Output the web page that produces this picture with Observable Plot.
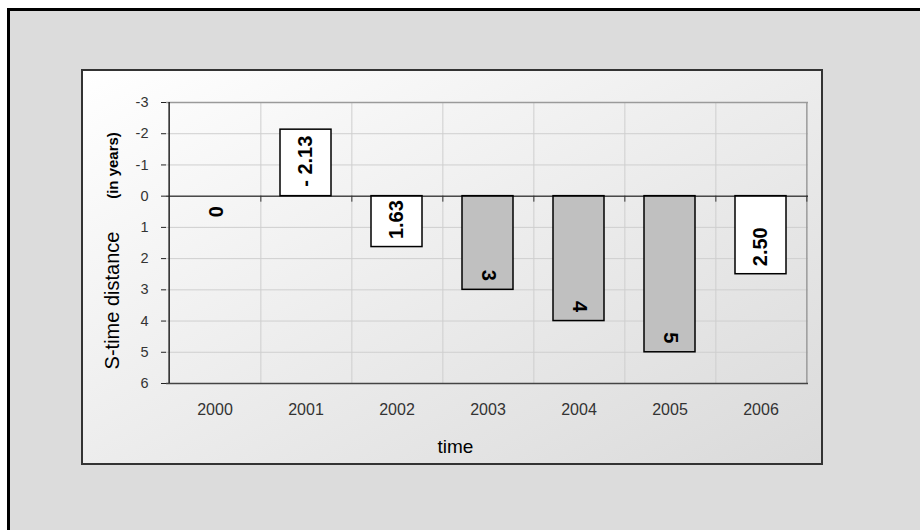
<!DOCTYPE html>
<html>
<head>
<meta charset="utf-8">
<script src="https://cdn.jsdelivr.net/npm/d3@7"></script>
<script src="https://cdn.jsdelivr.net/npm/@observablehq/plot@0.6"></script>
<style>
  html, body { margin: 0; padding: 0; background: #fff; overflow: hidden; width: 920px; height: 530px; }
  #outer { position: absolute; left: 7px; top: 8px; width: 930px; height: 540px; background: #dcdcdc;
           border-left: 3px solid #000; border-top: 3px solid #000; }
  #box { position: absolute; left: 81px; top: 69px; width: 738px; height: 392px; border: 2px solid #333;
         background: linear-gradient(to bottom right, #ffffff, #dadada); }
  #chart { position: absolute; left: 0; top: 0; }
</style>
</head>
<body>
<div id="outer"></div>
<div id="box"></div>
<div id="chart"></div>
<script>
// ---- data ----
const years = ["2000", "2001", "2002", "2003", "2004", "2005", "2006"];
const values = [0, -2.13, 1.63, 3, 4, 5, 2.5];
const valueLabels = ["0", "- 2.13", "1.63", "3", "4", "5", "2.50"];
const yTicks = [-3, -2, -1, 0, 1, 2, 3, 4, 5, 6];
const shadedYears = ["2003", "2004", "2005"];
const xTitle = "time";
const yTitle = "S-time distance";
const yUnit = "(in years)";

const data = years.map((year, i) => ({ year, value: values[i], label: valueLabels[i] }));

// ---- layout ----
const W = 920, H = 530;
const mL = 166, mT = 102, mR = 112, mB = 147;
const step = (W - mL - mR) / years.length;
const pxPerUnit = (H - mT - mB) / (yTicks[yTicks.length - 1] - yTicks[0]);
const isShaded = d => shadedYears.includes(d.year);
const font = "'Liberation Sans', Arial, sans-serif";
const labelStyle = { fontSize: 20, fontWeight: "bold", fill: "#000", lineAnchor: "middle" };

const chart = Plot.plot({
  width: W, height: H,
  marginLeft: mL, marginTop: mT, marginRight: mR, marginBottom: mB,
  style: { background: "transparent", fontFamily: font },
  x: { domain: years, paddingInner: 0.44, paddingOuter: 0.22, label: null },
  y: { domain: [yTicks[0], yTicks[yTicks.length - 1]], reverse: true, label: null },
  marks: [
    // gridlines
    Plot.ruleY(yTicks, { stroke: "#cfcfcf", strokeWidth: 1 }),
    Plot.ruleX(years.slice(0, -1), { x: d => d, dx: step / 2, stroke: "#cfcfcf", strokeWidth: 1 }),
    // frame: top & right grey, bottom dark, left black
    Plot.ruleY([yTicks[0]], { stroke: "#9a9a9a", strokeWidth: 1.5 }),
    Plot.ruleX([years[years.length - 1]], { x: d => d, dx: step / 2, stroke: "#9a9a9a", strokeWidth: 1.5 }),
    Plot.ruleY([yTicks[yTicks.length - 1]], { stroke: "#444", strokeWidth: 1.5 }),
    // bars
    Plot.barY(data.filter(d => d.value !== 0), {
      x: "year", y1: 0, y2: "value",
      fill: d => isShaded(d) ? "#c0c0c0" : "#ffffff",
      stroke: "#000", strokeWidth: 1.5
    }),
    // zero line and its ticks
    Plot.ruleY([0], { stroke: "#000", strokeWidth: 1 }),
    Plot.ruleX(years, { x: d => d, dx: step / 2, y1: 0, y2: 6 / pxPerUnit, stroke: "#333", strokeWidth: 1 }),
    Plot.ruleX([years[0]], { x: d => d, dx: -step / 2, stroke: "#222", strokeWidth: 1.5 }),
    // axes
    Plot.axisY({ ticks: yTicks, tickSize: 5, text: null, stroke: "#222" }),
    Plot.text(yTicks, { y: d => d, text: d => String(d), frameAnchor: "left", dx: -18,
      textAnchor: "end", lineAnchor: "middle", fontSize: 14.5, fill: "#333" }),
    Plot.axisX({ tickSize: 0, tickPadding: 20, fontSize: 16, fill: "#333" }),
    // value labels: negative (white, reading upward, end near top)
    Plot.text(data.filter(d => d.value < 0), {
      x: "year", y: "value", text: "label", rotate: -90, textAnchor: "end", dy: 6, ...labelStyle
    }),
    // positive white boxes (reading upward, start near bottom)
    Plot.text(data.filter(d => d.value > 0 && !isShaded(d)), {
      x: "year", y: "value", text: "label", rotate: -90, textAnchor: "start", dy: -8, ...labelStyle
    }),
    // shaded bars (reading downward, end near bottom)
    Plot.text(data.filter(d => d.value > 0 && isShaded(d)), {
      x: "year", y: "value", text: "label", rotate: 90, textAnchor: "end", dy: -9, ...labelStyle
    }),
    // zero value
    Plot.text(data.filter(d => d.value === 0), {
      x: "year", y: "value", text: "label", rotate: 90, textAnchor: "start", dy: 10, ...labelStyle
    }),
    // titles
    Plot.text([xTitle], { frameAnchor: "bottom-left", dx: 455 - mL, dy: 446 - (H - mB),
      textAnchor: "middle", lineAnchor: "middle", fontSize: 19, fill: "#000" }),
    Plot.text([yTitle], { frameAnchor: "top-left", dx: 112 - mL, dy: 300 - mT, rotate: -90,
      textAnchor: "middle", lineAnchor: "middle", fontSize: 20, fill: "#000" }),
    Plot.text([yUnit], { frameAnchor: "top-left", dx: 113 - mL, dy: 165 - mT, rotate: -90,
      textAnchor: "middle", lineAnchor: "middle", fontSize: 15, fontWeight: "bold", fill: "#000" })
  ]
});
document.getElementById("chart").appendChild(chart);
</script>
</body>
</html>
